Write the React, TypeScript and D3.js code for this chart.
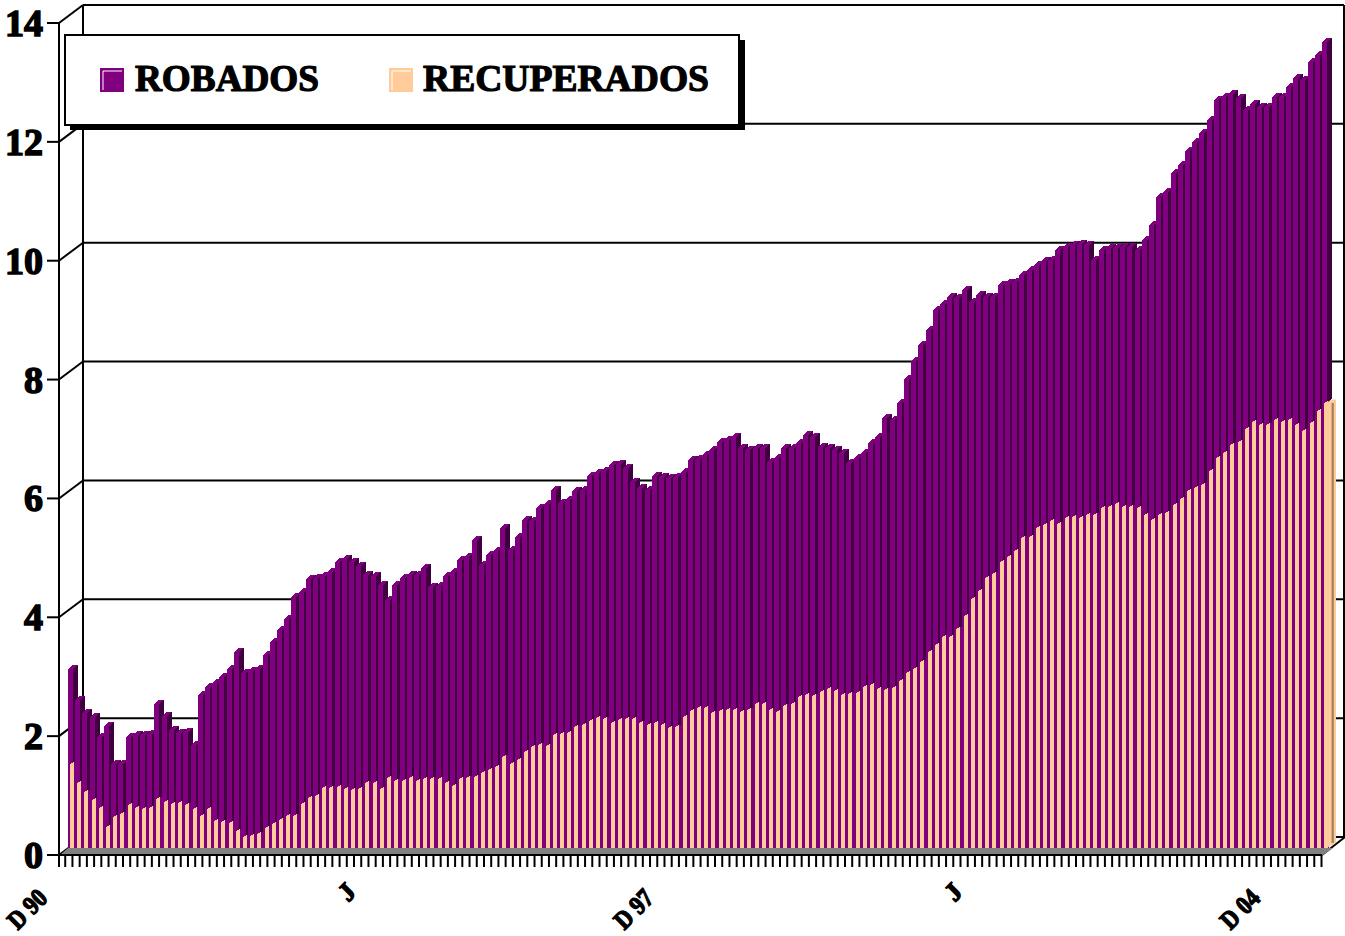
import React from "react";
import * as d3 from "d3";

const robados = [
  3.02,2.49,2.27,2.21,1.87,2.06,1.42,1.42,1.87,1.90,1.90,1.92,2.43,2.22,1.99,1.93,1.96,1.73,2.57,2.71,
  2.78,2.88,3.01,3.29,2.94,2.98,3.02,3.25,3.47,3.67,3.86,4.23,4.31,4.52,4.55,4.57,4.65,4.82,4.87,4.82,
  4.74,4.59,4.57,4.43,4.18,4.43,4.55,4.59,4.59,4.71,4.39,4.41,4.57,4.65,4.85,4.89,5.18,4.76,4.93,4.99,
  5.38,5.01,5.24,5.52,5.51,5.72,5.79,6.02,5.80,5.86,6.00,6.02,6.26,6.31,6.34,6.44,6.46,6.39,6.16,6.06,
  6.02,6.26,6.24,6.22,6.24,6.33,6.53,6.54,6.61,6.70,6.84,6.87,6.91,6.73,6.70,6.73,6.73,6.50,6.56,6.73,
  6.73,6.81,6.95,6.92,6.75,6.73,6.69,6.65,6.48,6.56,6.64,6.82,6.91,7.24,7.20,7.48,7.90,8.20,8.46,8.72,
  9.05,9.16,9.28,9.25,9.39,9.19,9.30,9.28,9.28,9.47,9.51,9.53,9.64,9.73,9.81,9.87,9.89,10.06,10.12,10.15,
  10.17,10.15,9.89,10.06,10.10,10.10,10.11,10.11,10.06,10.23,10.48,10.95,11.04,11.36,11.49,11.73,11.88,12.03,12.25,12.59,
  12.64,12.69,12.62,12.42,12.52,12.47,12.47,12.64,12.64,12.80,12.96,12.92,13.23,13.34,13.56,
];

const recuperados = [
  1.42,1.09,0.95,0.81,0.68,0.35,0.52,0.58,0.72,0.68,0.65,0.68,0.82,0.78,0.74,0.75,0.72,0.65,0.54,0.65,
  0.46,0.44,0.42,0.29,0.18,0.21,0.24,0.34,0.40,0.47,0.54,0.54,0.74,0.84,0.87,1.01,1.01,1.02,0.99,0.98,
  0.99,1.09,1.09,1.00,1.17,1.12,1.12,1.17,1.12,1.16,1.16,1.16,1.10,1.05,1.16,1.18,1.20,1.26,1.32,1.37,
  1.53,1.42,1.48,1.62,1.70,1.73,1.72,1.90,1.92,1.93,2.03,2.07,2.14,2.19,2.17,2.10,2.15,2.17,2.17,2.10,
  2.07,2.11,2.07,2.02,2.04,2.21,2.31,2.35,2.35,2.27,2.31,2.33,2.33,2.29,2.33,2.42,2.42,2.32,2.29,2.39,
  2.43,2.54,2.57,2.55,2.63,2.67,2.64,2.57,2.59,2.61,2.71,2.74,2.67,2.66,2.70,2.81,2.94,3.01,3.13,3.29,
  3.42,3.55,3.55,3.68,3.90,4.19,4.33,4.55,4.61,4.82,4.89,5.00,5.22,5.24,5.39,5.43,5.51,5.46,5.56,5.57,
  5.55,5.60,5.60,5.72,5.74,5.79,5.73,5.74,5.72,5.60,5.52,5.60,5.64,5.77,5.87,6.00,6.05,6.11,6.35,6.57,
  6.65,6.78,6.84,7.05,7.16,7.11,7.11,7.20,7.16,7.21,7.11,7.02,7.15,7.36,7.48,
];

const yTicks = [0, 2, 4, 6, 8, 10, 12, 14];
const xLabels = [
  { index: 0, text: "D 90" },
  { index: 42, text: "J" },
  { index: 84, text: "D 97" },
  { index: 126, text: "J" },
  { index: 168, text: "D 04" },
];
const legendItems = ["ROBADOS", "RECUPERADOS"];

const PURPLE = "#800080";
const DARK = "#400040";
const PEACH = "#FFCC99";
const FONT = "'Liberation Serif', serif";

export default function App() {
  const n = robados.length;
  const front = d3.scaleLinear().domain([0, 14]).range([855, 23]);
  const back = d3.scaleLinear().domain([0, 14]).range([837, 5]);
  const barY = d3.scaleLinear().domain([0, 14]).range([848, 16]);
  const barX = d3.scaleLinear().domain([0, n - 1]).range([68, 1322]);
  const tickX = d3.scaleLinear().domain([0, n]).range([58, 1321.5]);
  const base = barY(0);

  const poly = (pts: [number, number][]) => d3.line()(pts) + "Z";
  const dx = 5, dy = 4;
  const pw = 4, pdy = 2;

  const bars = robados.map((v, i) => {
    const x = Math.round(barX(i));
    const next = Math.round(barX(i + 1));
    const w = 5;
    const y = Math.round(barY(v));
    const yp = Math.round(barY(recuperados[i]));
    const px = x + 2;
    return (
      <g key={i}>
        <path d={poly([[x + w, y], [x + w + dx, y - dy], [x + w + dx, yp - dy], [x + w, yp]])} fill={DARK} />
        <path d={poly([[x, y], [x + dx, y - dy], [x + w + dx, y - dy], [x + w, y]])} fill={PURPLE} />
        <rect x={x} y={y} width={w} height={yp - y} fill={PURPLE} />
        <rect x={x} y={yp - 2} width={next - x} height={base - yp + 2} fill={PURPLE} />
        <path d={poly([[px, yp], [px + pw, yp - pdy], [px + pw, base], [px, base]])} fill={PEACH} />
      </g>
    );
  });

  const lastX = Math.round(barX(n - 1));
  const lastY = Math.round(barY(recuperados[n - 1]));

  const lineStyle = { stroke: "#000", strokeWidth: 2, fill: "none" };
  const boldText = { fontFamily: FONT, fontWeight: 700, fill: "#000", stroke: "#000" };

  return (
    <svg width={1345} height={936} style={{ position: "absolute", left: 0, top: 0, background: "#fff" }}>
      {/* walls */}
      <line x1={83} x2={83} y1={back(14)} y2={back(0)} {...lineStyle} />
      <line x1={83} x2={1344} y1={back(14)} y2={back(14)} {...lineStyle} />
      <line x1={1344} x2={1344} y1={back(14)} y2={back(0)} {...lineStyle} />
      {yTicks.map((t) => (
        <g key={t}>
          <line x1={83} x2={1344} y1={back(t)} y2={back(t)} {...lineStyle} />
          <line x1={59} x2={83} y1={front(t)} y2={back(t)} {...lineStyle} />
          <line x1={47} x2={59} y1={front(t)} y2={front(t)} {...lineStyle} />
          <text x={43} y={front(t) + 13} textAnchor="end" fontSize={38} strokeWidth={1.5} {...boldText}>{t}</text>
        </g>
      ))}
      <line x1={59} x2={59} y1={front(14)} y2={front(0)} {...lineStyle} />
      <line x1={1322} x2={1345} y1={front(0)} y2={back(0)} {...lineStyle} />

      {/* floor */}
      <path d={poly([[60, 855], [68, 848], [1333, 848], [1323, 855]])} fill="#808080" />
      <line x1={59} x2={1322} y1={855} y2={855} {...lineStyle} />

      {/* bars */}
      <g shapeRendering="crispEdges">{bars}</g>
      <path d={poly([[lastX + 4, lastY], [lastX + 10, lastY - 3.5], [lastX + 14, lastY - 3.5], [lastX + 14, 843], [lastX + 4, 848]])} fill={PEACH} />
      <rect x={lastX + 9.6} y={lastY} width={2.2} height={843 - lastY} fill="#A07E5E" />

      {/* x ticks */}
      {d3.range(n + 1).map((i) => (
        <line key={i} x1={i === 0 ? 59 : tickX(i)} x2={i === 0 ? 59 : tickX(i)} y1={855} y2={867} {...lineStyle} />
      ))}
      {xLabels.map((l) => {
        const isJ = l.text === "J";
        const cx = isJ ? tickX(l.index) - 12.5 : tickX(l.index) - 29;
        const cy = isJ ? 894 : 911;
        return (
          <text
            key={l.index}
            x={0}
            y={0}
            transform={`translate(${cx},${cy}) rotate(-45)`}
            textAnchor="middle"
            dominantBaseline="middle"
            fontSize={26}
            strokeWidth={1.3}
            textLength={isJ ? undefined : 44}
            lengthAdjust="spacingAndGlyphs"
            {...boldText}
          >
            {l.text}
          </text>
        );
      })}

      {/* legend */}
      <rect x={70} y={40} width={675} height={90} fill="#000" />
      <rect x={65} y={35} width={674} height={90} fill="#fff" stroke="#000" strokeWidth={2} />
      <rect x={100.5} y={68.5} width={23} height={23} fill={PURPLE} stroke={PURPLE} />
      <path d="M103 90V71H122" fill="none" stroke="#fff" strokeWidth={1} />
      <rect x={389.5} y={68.5} width={23} height={23} fill={PEACH} stroke={PEACH} />
      <path d="M392 90V71H411" fill="none" stroke="#fff" strokeWidth={1} />
      <text x={135} y={91} fontSize={38} strokeWidth={1.2} textLength={184} lengthAdjust="spacingAndGlyphs" {...boldText}>{legendItems[0]}</text>
      <text x={423} y={91} fontSize={38} strokeWidth={1.2} textLength={286} lengthAdjust="spacingAndGlyphs" {...boldText}>{legendItems[1]}</text>
    </svg>
  );
}
